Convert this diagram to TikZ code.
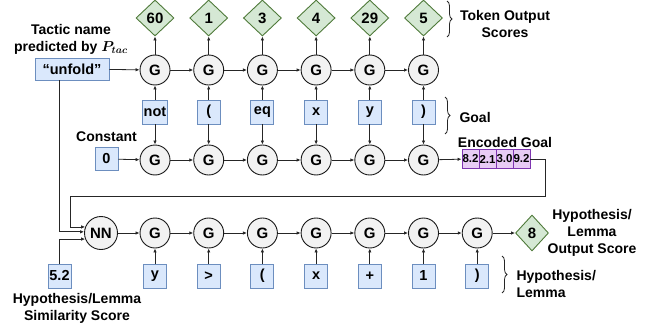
\documentclass[tikz,border=0pt]{standalone}
\usepackage{fontspec}
\setmainfont{Liberation Sans}
\usepackage{bm}
\usetikzlibrary{shapes.geometric,decorations.pathreplacing,arrows.meta,positioning}
\definecolor{tokfill}{HTML}{DAE8FC}
\definecolor{tokdraw}{HTML}{6C8EBF}
\definecolor{scorefill}{HTML}{D5E8D4}
\definecolor{scoredraw}{HTML}{4F7A3A}
\definecolor{encfill}{HTML}{E8CCF5}
\definecolor{encdraw}{HTML}{7E35B0}

\begin{document}
\begin{tikzpicture}[x=1pt,y=-1pt,
    gcell/.style={circle,draw=black!90,fill=black!5,line width=0.9pt,minimum size=30pt,inner sep=0pt,font=\bfseries\fontsize{15}{15}\selectfont},
    token/.style={rectangle,draw=tokdraw,fill=tokfill,line width=0.9pt,minimum width=23pt,minimum height=24pt,inner sep=1pt,font=\bfseries\fontsize{14.5}{14.5}\selectfont},
    score/.style={diamond,draw=scoredraw,fill=scorefill,line width=0.9pt,minimum width=38pt,minimum height=36pt,inner sep=0pt,font=\bfseries\fontsize{15}{15}\selectfont},
    enc/.style={rectangle,draw=encdraw,fill=encfill,line width=0.9pt,minimum width=17pt,minimum height=19pt,inner sep=0pt,font=\bfseries\fontsize{11.5}{11.5}\selectfont},
    lbl/.style={align=center,font=\bfseries\fontsize{14}{17}\selectfont},
    arr/.style={-{Latex[length=4pt,width=3.5pt]},draw=black!85,line width=0.8pt},
    brc/.style={decorate,decoration={brace,amplitude=5pt},draw=black!85,line width=0.8pt}]
    \useasboundingbox (0,0) rectangle (647,329);

    % tactic decoder
    \node[token,minimum width=74pt,minimum height=22pt] (tac) at (72,69) {“unfold”};
    \node[lbl] (taclbl) at (71,39) {Tactic name\\predicted by $\bm{P}_{\bm{tac}}$};
    \foreach \s [count=\i from 0] in {60,1,3,4,29,5} {
        \node[gcell] (t\i) at (155+53.7*\i,70) {G};
        \node[score] (s\i) at (155+53.7*\i,18) {\s};
        \draw[arr] (t\i) -- (s\i);
    }
    \draw[arr] (tac) -- (t0);
    \foreach \i [count=\j] in {0,...,4}
        \draw[arr] (t\i) -- (t\j);

    % goal encoder
    \node[token,minimum height=23pt] (c0) at (106.5,159) {0};
    \node[lbl,above=2pt of c0] (clbl) {Constant};
    \foreach \w [count=\i from 0] in {not,{(},eq,x,y,{)}} {
        \node[token] (g\i) at (155+53.7*\i,112) {\w};
        \node[gcell] (m\i) at (155+53.7*\i,160) {G};
        \draw[arr] (g\i) -- (t\i);
        \draw[arr] (g\i) -- (m\i);
    }
    \draw[arr] (c0) -- (m0);
    \foreach \i [count=\j] in {0,...,4}
        \draw[arr] (m\i) -- (m\j);
    \foreach \v [count=\i] in {8.2,2.1,3.0,9.2}
        \node[enc] (e\i) at (453.5+17*\i,159) {\v};
    \node[lbl] (elbl) at (505,142) {Encoded Goal};
    \draw[arr] (m5) -- (e1);

    % hypothesis scorer
    \node[gcell,minimum size=33pt] (nn) at (101,233) {NN};
    \node[token] (sim) at (59.5,276) {5.2};
    \node[lbl] (simlbl) at (77,308) {Hypothesis/Lemma\\Similarity Score};
    \coordinate (lr) at (545,196);
    \coordinate (ll) at (70,196);
    \draw[arr] (e4.east) -| (lr) -- (ll) |- (nn.159);
    \draw[arr] ([xshift=-13pt]tac.south) |- (nn.176);
    \draw[arr] (sim) |- (nn.201);
    \foreach \w [count=\i from 0] in {y,>,{(},x,+,1,{)}} {
        \node[gcell] (b\i) at (155+53.7*\i,233) {G};
        \node[token] (h\i) at (155+53.7*\i,276) {\w};
        \draw[arr] (h\i) -- (b\i);
    }
    \draw[arr] (nn) -- (b0);
    \foreach \i [count=\j] in {0,...,5}
        \draw[arr] (b\i) -- (b\j);
    \node[score,minimum width=33pt] (out) at (532,233) {8};
    \draw[arr] (b6) -- (out);
    \node[lbl] (outlbl) at (592,233) {Hypothesis/\\Lemma\\Output Score};

    % braces
    \draw[brc] (447,1) -- (447,37);
    \node[lbl] (slbl) at (505,24) {Token Output\\Scores};
    \draw[brc] (445,97) -- (445,134);
    \node[lbl,anchor=west] (glbl) at (456,117) {Goal};
    \draw[brc] (502,256) -- (502,293);
    \node[lbl,anchor=west,align=left] (hlbl) at (513,284) {Hypothesis/\\Lemma};
\end{tikzpicture}
\end{document}
